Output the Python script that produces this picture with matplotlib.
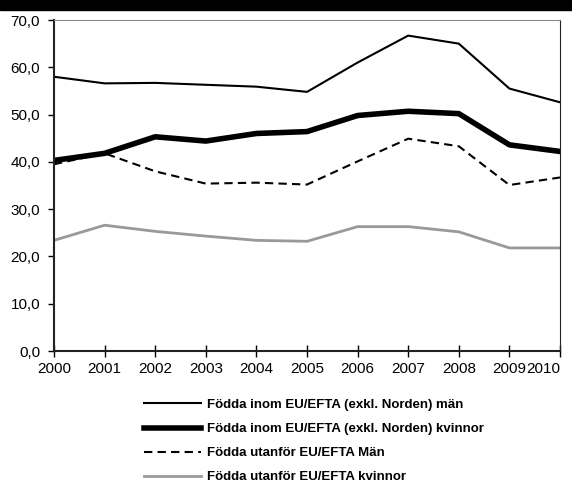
import matplotlib
matplotlib.use("Agg")
import matplotlib.pyplot as plt
from matplotlib import font_manager
from matplotlib.patches import Rectangle

years = list(range(2000, 2011))
inom_man = [58.0, 56.6, 56.7, 56.3, 55.9, 54.8, 61.0, 66.7, 65.0, 55.5, 52.6]
inom_kvinnor = [40.3, 41.8, 45.3, 44.4, 46.0, 46.4, 49.8, 50.7, 50.2, 43.6, 42.2]
utanfor_man = [39.5, 41.8, 38.0, 35.4, 35.6, 35.2, 40.1, 44.9, 43.3, 35.1, 36.7]
utanfor_kvinnor = [23.4, 26.6, 25.3, 24.3, 23.4, 23.2, 26.3, 26.3, 25.2, 21.8, 21.8]
y_ticks = [0, 10, 20, 30, 40, 50, 60, 70]

# condensed font if there is one, else a smaller plain sans
names = {f.name for f in font_manager.fontManager.ttflist}
narrow = "Liberation Sans Narrow" in names
plt.rcParams['font.family'] = ['Liberation Sans Narrow' if narrow else 'Liberation Sans', 'DejaVu Sans']
tick_size = 12 if narrow else 11
leg_size = 11 if narrow else 9.5

fig = plt.figure(figsize=(5.72, 4.90), dpi=100)
ax = fig.add_axes([54 / 572, 1 - 351 / 490, 506 / 572, 331 / 490])

# cut-off title banner at the top
fig.patches.append(Rectangle((0, 1 - 10 / 490), 1, 10 / 490, transform=fig.transFigure,
                             color="black", zorder=0))

ax.plot(years, inom_man, color="black", lw=1.5, label="Födda inom EU/EFTA (exkl. Norden) män")
ax.plot(years, inom_kvinnor, color="black", lw=4, label="Födda inom EU/EFTA (exkl. Norden) kvinnor")
ax.plot(years, utanfor_man, color="black", lw=1.5, ls=(0, (4, 2.5)), label="Födda utanför EU/EFTA Män")
ax.plot(years, utanfor_kvinnor, color="#999999", lw=2, label="Födda utanför EU/EFTA kvinnor")

ax.set_xlim(2000, 2010)
ax.set_ylim(0, 70)
ax.set_xticks(years)
ax.set_yticks(y_ticks)
ax.set_yticklabels([f"{v},0" for v in y_ticks])
ax.tick_params(axis="y", direction="out", length=4, width=1, labelsize=tick_size, pad=6)
ax.tick_params(axis="x", direction="inout", length=8, width=1, labelsize=tick_size, pad=4)
ax.get_xticklabels()[-1].set_horizontalalignment("right")

for side in ["left", "bottom"]:
    ax.spines[side].set_color("#222222")
    ax.spines[side].set_linewidth(1.5)
ax.spines["top"].set_color("#888888")
ax.spines["right"].set_color("#222222")

leg = fig.legend(loc="upper left", bbox_to_anchor=(132 / 572, 1 - 387 / 490), ncol=1,
                 frameon=False, handlelength=4.3, handletextpad=0.5, labelspacing=0.9,
                 prop={"weight": "bold", "size": leg_size})

fig.savefig("out.png", dpi=100)
